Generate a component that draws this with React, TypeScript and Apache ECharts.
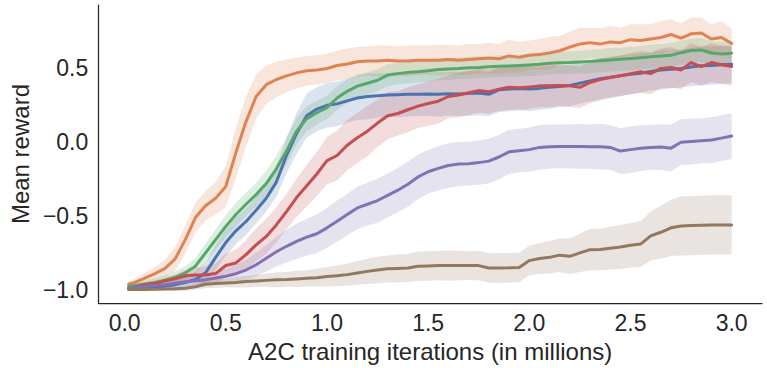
import React, { useEffect, useRef } from "react";
import * as echarts from "echarts";

const xIters = [
  0.02, 0.05, 0.1, 0.15, 0.2, 0.25, 0.3, 0.35, 0.4, 0.45,
  0.5, 0.55, 0.6, 0.65, 0.7, 0.75, 0.8, 0.85, 0.9, 0.95,
  1.0, 1.05, 1.1, 1.15, 1.2, 1.25, 1.3, 1.35, 1.4, 1.45,
  1.5, 1.55, 1.6, 1.65, 1.7, 1.75, 1.8, 1.85, 1.9, 1.95,
  2.0, 2.05, 2.1, 2.15, 2.2, 2.25, 2.3, 2.35, 2.4, 2.45,
  2.5, 2.55, 2.6, 2.65, 2.7, 2.75, 2.8, 2.85, 2.9, 2.95,
  3.0,
];

const meanBlue = [
  -0.99, -0.99, -0.985, -0.98, -0.975, -0.965, -0.95, -0.93, -0.885, -0.78,
  -0.68, -0.6, -0.537, -0.46, -0.38, -0.27, -0.09, 0.06, 0.18, 0.225,
  0.25, 0.26, 0.28, 0.3, 0.31, 0.315, 0.32, 0.322, 0.325, 0.325,
  0.327, 0.325, 0.328, 0.327, 0.33, 0.333, 0.325, 0.355, 0.36, 0.365,
  0.36, 0.365, 0.372, 0.378, 0.385, 0.4, 0.416, 0.43, 0.44, 0.45,
  0.46, 0.468, 0.48, 0.49, 0.495, 0.5, 0.51, 0.518, 0.52, 0.525,
  0.529,
];
const ciBlue = [
  0.01, 0.012, 0.015, 0.02, 0.025, 0.03, 0.04, 0.05, 0.07, 0.085,
  0.09, 0.09, 0.09, 0.09, 0.09, 0.1, 0.12, 0.14, 0.15, 0.15,
  0.15, 0.152, 0.148, 0.15, 0.155, 0.15, 0.148, 0.152, 0.15, 0.148,
  0.15, 0.152, 0.148, 0.15, 0.15, 0.152, 0.148, 0.15, 0.15, 0.148,
  0.15, 0.145, 0.145, 0.14, 0.142, 0.14, 0.138, 0.14, 0.135, 0.137,
  0.135, 0.133, 0.13, 0.132, 0.13, 0.128, 0.13, 0.132, 0.13, 0.128,
  0.13,
];

const meanOrange = [
  -0.96, -0.95, -0.92, -0.89, -0.855, -0.79, -0.66, -0.51, -0.43, -0.38,
  -0.3, -0.07, 0.14, 0.31, 0.39, 0.425, 0.45, 0.47, 0.485, 0.49,
  0.5, 0.52, 0.53, 0.545, 0.55, 0.55, 0.555, 0.55, 0.55, 0.555,
  0.555, 0.555, 0.56, 0.555, 0.56, 0.565, 0.57, 0.565, 0.585, 0.575,
  0.59, 0.595, 0.605, 0.62, 0.645, 0.665, 0.675, 0.665, 0.68, 0.675,
  0.695, 0.69, 0.7, 0.71, 0.73, 0.705, 0.735, 0.74, 0.7, 0.71,
  0.67,
];
const ciOrange = [
  0.02, 0.025, 0.035, 0.045, 0.06, 0.08, 0.095, 0.1, 0.1, 0.11,
  0.14, 0.17, 0.17, 0.15, 0.13, 0.12, 0.11, 0.105, 0.1, 0.1,
  0.1, 0.1, 0.105, 0.1, 0.1, 0.105, 0.1, 0.1, 0.105, 0.1,
  0.1, 0.105, 0.1, 0.1, 0.105, 0.1, 0.105, 0.1, 0.11, 0.105,
  0.1, 0.105, 0.11, 0.1, 0.105, 0.11, 0.1, 0.105, 0.11, 0.1,
  0.105, 0.11, 0.1, 0.11, 0.105, 0.1, 0.11, 0.105, 0.1, 0.11,
  0.1,
];

const meanGreen = [
  -0.975, -0.97, -0.96, -0.95, -0.935, -0.915, -0.885, -0.84, -0.75, -0.66,
  -0.57, -0.49, -0.42, -0.355, -0.28, -0.18, -0.06, 0.075, 0.16, 0.2,
  0.235, 0.3, 0.345, 0.38, 0.4, 0.42, 0.455, 0.465, 0.473, 0.478,
  0.485, 0.493, 0.497, 0.5, 0.505, 0.507, 0.512, 0.515, 0.517, 0.52,
  0.524, 0.528, 0.535, 0.538, 0.54, 0.544, 0.548, 0.552, 0.558, 0.563,
  0.567, 0.572, 0.58, 0.584, 0.59, 0.607, 0.622, 0.625, 0.605, 0.598,
  0.603,
];
const ciGreen = [
  0.015, 0.02, 0.025, 0.03, 0.035, 0.04, 0.045, 0.055, 0.065, 0.07,
  0.075, 0.08, 0.08, 0.08, 0.085, 0.09, 0.09, 0.09, 0.085, 0.08,
  0.08, 0.08, 0.08, 0.078, 0.075, 0.075, 0.075, 0.072, 0.075, 0.072,
  0.075, 0.072, 0.075, 0.072, 0.075, 0.075, 0.072, 0.075, 0.072, 0.075,
  0.075, 0.078, 0.075, 0.078, 0.075, 0.078, 0.08, 0.078, 0.08, 0.078,
  0.08, 0.078, 0.08, 0.082, 0.08, 0.082, 0.08, 0.082, 0.08, 0.082,
  0.08,
];

const meanRed = [
  -0.99, -0.98, -0.965, -0.955, -0.94, -0.925, -0.905, -0.9, -0.9, -0.89,
  -0.835, -0.818, -0.762, -0.695, -0.638, -0.56, -0.47, -0.375, -0.295, -0.215,
  -0.125, -0.09, -0.02, 0.03, 0.075, 0.13, 0.18, 0.195, 0.22, 0.245,
  0.262, 0.278, 0.31, 0.32, 0.335, 0.35, 0.342, 0.36, 0.372, 0.37,
  0.375, 0.382, 0.382, 0.385, 0.382, 0.372, 0.405, 0.425, 0.438, 0.45,
  0.465, 0.477, 0.465, 0.5, 0.506, 0.49, 0.54, 0.513, 0.54, 0.525,
  0.513,
];
const ciRed = [
  0.01, 0.012, 0.015, 0.02, 0.025, 0.03, 0.04, 0.05, 0.06, 0.07,
  0.08, 0.09, 0.1, 0.11, 0.12, 0.12, 0.12, 0.13, 0.14, 0.15,
  0.16, 0.17, 0.17, 0.17, 0.17, 0.16, 0.16, 0.15, 0.152, 0.148,
  0.15, 0.152, 0.148, 0.15, 0.152, 0.15, 0.148, 0.15, 0.152, 0.15,
  0.15, 0.145, 0.145, 0.14, 0.142, 0.14, 0.14, 0.142, 0.14, 0.138,
  0.14, 0.142, 0.14, 0.135, 0.137, 0.13, 0.132, 0.13, 0.132, 0.13,
  0.13,
];

const meanPurple = [
  -0.99, -0.985, -0.978, -0.97, -0.965, -0.955, -0.945, -0.938, -0.932, -0.92,
  -0.908, -0.89, -0.866, -0.83, -0.786, -0.742, -0.705, -0.672, -0.643, -0.62,
  -0.58, -0.535, -0.49, -0.445, -0.42, -0.395, -0.36, -0.325, -0.285, -0.235,
  -0.2, -0.177, -0.158, -0.148, -0.145, -0.138, -0.128, -0.1, -0.065, -0.057,
  -0.05, -0.035, -0.03, -0.028, -0.028, -0.028, -0.03, -0.03, -0.035, -0.06,
  -0.05, -0.04, -0.035, -0.033, -0.04, 0.0, 0.005, 0.01, 0.015, 0.028,
  0.042,
];
const ciPurple = [
  0.01, 0.012, 0.015, 0.02, 0.02, 0.025, 0.03, 0.035, 0.04, 0.045,
  0.05, 0.06, 0.07, 0.08, 0.09, 0.1, 0.11, 0.12, 0.125, 0.13,
  0.135, 0.14, 0.14, 0.145, 0.145, 0.15, 0.148, 0.15, 0.152, 0.15,
  0.148, 0.15, 0.152, 0.15, 0.148, 0.15, 0.152, 0.15, 0.15, 0.148,
  0.15, 0.152, 0.15, 0.148, 0.15, 0.152, 0.15, 0.155, 0.152, 0.155,
  0.158, 0.155, 0.152, 0.155, 0.158, 0.155, 0.155, 0.152, 0.155, 0.155,
  0.155,
];

const meanBrown = [
  -0.998, -0.998, -0.997, -0.996, -0.995, -0.993, -0.99, -0.98, -0.962, -0.957,
  -0.953, -0.95, -0.944, -0.94, -0.936, -0.932, -0.93, -0.926, -0.922, -0.918,
  -0.91, -0.905, -0.897, -0.886, -0.875, -0.866, -0.858, -0.855, -0.852, -0.84,
  -0.838, -0.836, -0.836, -0.836, -0.836, -0.836, -0.852, -0.852, -0.851, -0.848,
  -0.802, -0.788, -0.78, -0.765, -0.773, -0.75, -0.728, -0.727, -0.718, -0.71,
  -0.698, -0.69, -0.635, -0.61, -0.58, -0.568, -0.565, -0.563, -0.56, -0.56,
  -0.56,
];
const ciBrown = [
  0.005, 0.006, 0.008, 0.01, 0.012, 0.015, 0.018, 0.02, 0.025, 0.03,
  0.03, 0.035, 0.04, 0.04, 0.045, 0.05, 0.05, 0.055, 0.055, 0.06,
  0.065, 0.07, 0.075, 0.08, 0.085, 0.09, 0.09, 0.095, 0.095, 0.1,
  0.1, 0.1, 0.102, 0.1, 0.098, 0.1, 0.1, 0.102, 0.1, 0.1,
  0.1, 0.105, 0.11, 0.115, 0.12, 0.13, 0.14, 0.14, 0.145, 0.15,
  0.15, 0.155, 0.165, 0.18, 0.19, 0.2, 0.2, 0.2, 0.2, 0.2,
  0.2,
];

const xTicks = [0, 0.5, 1.0, 1.5, 2.0, 2.5, 3.0];
const yTicks = [-1.0, -0.5, 0.0, 0.5];

const seriesDefs = [
  { name: "blue", color: "#4C72B0", band: "rgba(76,114,176,0.2)", mean: meanBlue, ci: ciBlue },
  { name: "orange", color: "#DD8452", band: "rgba(221,132,82,0.2)", mean: meanOrange, ci: ciOrange },
  { name: "green", color: "#55A868", band: "rgba(85,168,104,0.2)", mean: meanGreen, ci: ciGreen },
  { name: "red", color: "#C44E52", band: "rgba(196,78,82,0.2)", mean: meanRed, ci: ciRed },
  { name: "purple", color: "#8172B3", band: "rgba(129,114,179,0.2)", mean: meanPurple, ci: ciPurple },
  { name: "brown", color: "#937860", band: "rgba(147,120,96,0.2)", mean: meanBrown, ci: ciBrown },
];

const fmt = (v: number) => (v < 0 ? "\u2212" : "") + Math.abs(v).toFixed(1);
const FONT = "'Liberation Sans', Arial, sans-serif";
const INK = "#262626";

export default function App() {
  const ref = useRef<HTMLDivElement>(null);
  useEffect(() => {
    document.body.style.margin = "0";
    if (!ref.current) return;
    const chart = echarts.init(ref.current, null, { renderer: "svg" });
    const series: any[] = [];
    seriesDefs.forEach((s) => {
      series.push({
        type: "line",
        name: s.name,
        data: xIters.map((x, i) => [x, s.mean[i]]),
        showSymbol: false,
        symbol: "none",
        lineStyle: { color: s.color, width: 3, join: "round", cap: "round" },
        itemStyle: { color: s.color },
        silent: true,
      });
      const bandData = xIters.map((x, i) => [x, s.mean[i] - s.ci[i], s.mean[i] + s.ci[i]]);
      series.push({
        type: "custom",
        name: s.name + "-band",
        silent: true,
        data: bandData,
        encode: { x: 0, y: [1, 2] },
        renderItem: (params: any, api: any) => {
          if (params.dataIndex !== 0) return null;
          const pts: number[][] = [];
          for (let i = 0; i < bandData.length; i++) pts.push(api.coord([bandData[i][0], bandData[i][2]]));
          for (let i = bandData.length - 1; i >= 0; i--) pts.push(api.coord([bandData[i][0], bandData[i][1]]));
          return { type: "polygon", shape: { points: pts }, style: { fill: s.band } };
        },
      });
    });
    chart.setOption({
      animation: false,
      backgroundColor: "#ffffff",
      grid: { left: 92, right: 5, top: 5, bottom: 63, containLabel: false },
      xAxis: {
        type: "value",
        min: -0.13,
        max: 3.15,
        name: "A2C training iterations (in millions)",
        nameLocation: "middle",
        nameGap: 35,
        nameTextStyle: { fontSize: 24, color: INK, fontFamily: FONT },
        axisLine: { show: true, onZero: false, lineStyle: { color: INK, width: 1.25 } },
        axisTick: { show: false },
        splitLine: { show: false },
        axisLabel: {
          customValues: xTicks,
          formatter: fmt,
          fontSize: 23,
          color: INK,
          fontFamily: FONT,
          margin: 8,
        },
      },
      yAxis: {
        type: "value",
        min: -1.09,
        max: 0.93,
        name: "Mean reward",
        nameLocation: "middle",
        nameRotate: 90,
        nameGap: 60,
        nameTextStyle: { fontSize: 24, color: INK, fontFamily: FONT },
        axisLine: { show: true, onZero: false, lineStyle: { color: INK, width: 1.25 } },
        axisTick: { show: false },
        splitLine: { show: false },
        axisLabel: {
          customValues: yTicks,
          formatter: fmt,
          fontSize: 23,
          color: INK,
          fontFamily: FONT,
          margin: 10,
        },
      },
      series,
    });
    return () => chart.dispose();
  }, []);
  return <div ref={ref} style={{ width: 767, height: 368 }} />;
}
